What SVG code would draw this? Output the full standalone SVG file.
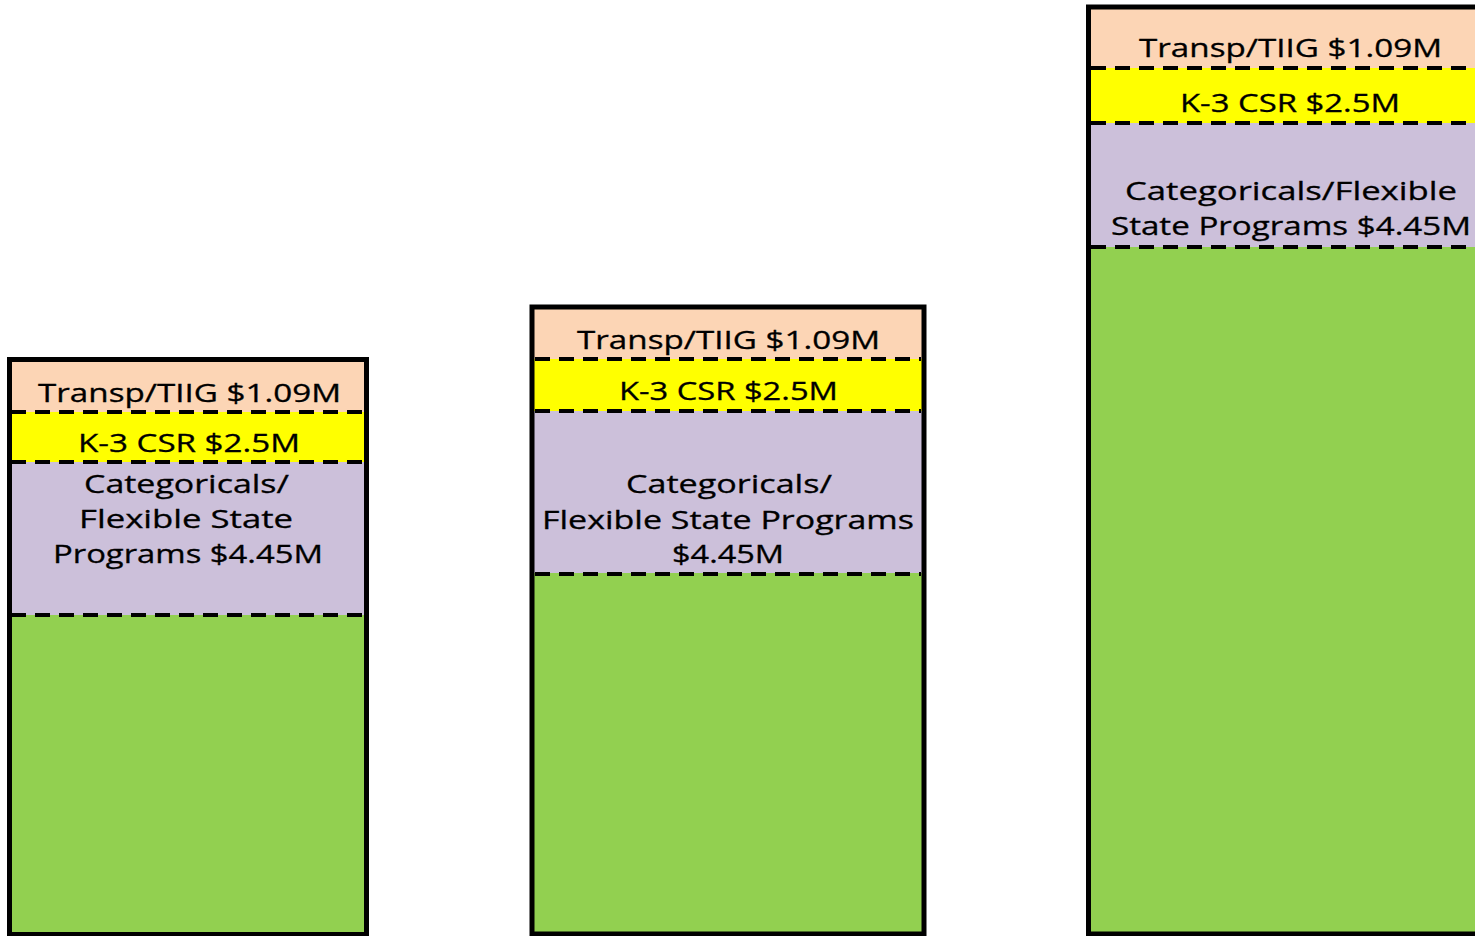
<svg xmlns="http://www.w3.org/2000/svg" width="1475" height="936" viewBox="0 0 1475 936">
<style>
.peach{fill:#FCD5B5}
.yel{fill:#FFFF00}
.lav{fill:#CCC0DA}
.grn{fill:#92D050}
.frame{fill:none;stroke:#000;stroke-width:5}
.dash{stroke:#000;stroke-width:4;stroke-dasharray:15 9;fill:none}
text{font-family:"Open Sans","DejaVu Sans",sans-serif;font-size:25px;fill:#000;stroke:#000;stroke-width:0.3}
</style>
<rect width="1475" height="936" fill="#fff"/>
<g id="bar1">
<rect class="peach" x="10" y="360" width="356" height="52"/>
<rect class="yel" x="10" y="412" width="356" height="50"/>
<rect class="lav" x="10" y="462" width="356" height="153"/>
<rect class="grn" x="10" y="615" width="356" height="320"/>
<line class="dash" x1="11" y1="412" x2="364" y2="412"/>
<line class="dash" x1="11" y1="462" x2="364" y2="462"/>
<line class="dash" x1="11" y1="615" x2="364" y2="615"/>
<rect class="frame" x="9.5" y="359.5" width="357" height="575"/>
<text x="38" y="402" textLength="303" lengthAdjust="spacingAndGlyphs">Transp/TIIG $1.09M</text>
<text x="78" y="452" textLength="222" lengthAdjust="spacingAndGlyphs">K-3 CSR $2.5M</text>
<text x="84" y="493" textLength="205" lengthAdjust="spacingAndGlyphs">Categoricals/</text>
<text x="79" y="528" textLength="214" lengthAdjust="spacingAndGlyphs">Flexible State</text>
<text x="53" y="563" textLength="270" lengthAdjust="spacingAndGlyphs">Programs $4.45M</text>
</g>
<g id="bar2">
<rect class="peach" x="533" y="308" width="390" height="51"/>
<rect class="yel" x="533" y="359" width="390" height="52"/>
<rect class="lav" x="533" y="411" width="390" height="162"/>
<rect class="grn" x="533" y="573" width="390" height="362"/>
<line class="dash" x1="535" y1="359" x2="921" y2="359"/>
<line class="dash" x1="535" y1="411" x2="921" y2="411"/>
<line class="dash" x1="535" y1="574" x2="921" y2="574"/>
<rect class="frame" x="532" y="307" width="392" height="627"/>
<text x="577" y="349" textLength="303" lengthAdjust="spacingAndGlyphs">Transp/TIIG $1.09M</text>
<text x="619" y="400" textLength="219" lengthAdjust="spacingAndGlyphs">K-3 CSR $2.5M</text>
<text x="626" y="493" textLength="206" lengthAdjust="spacingAndGlyphs">Categoricals/</text>
<text x="542" y="529" textLength="372" lengthAdjust="spacingAndGlyphs">Flexible State Programs</text>
<text x="672" y="563" textLength="112" lengthAdjust="spacingAndGlyphs">$4.45M</text>
</g>
<g id="bar3">
<rect class="peach" x="1090" y="8" width="400" height="60"/>
<rect class="yel" x="1090" y="68" width="400" height="55"/>
<rect class="lav" x="1090" y="123" width="400" height="124"/>
<rect class="grn" x="1090" y="247" width="400" height="688"/>
<line class="dash" x1="1091" y1="68" x2="1480" y2="68"/>
<line class="dash" x1="1091" y1="123" x2="1480" y2="123"/>
<line class="dash" x1="1091" y1="247" x2="1480" y2="247"/>
<rect class="frame" x="1088.5" y="7" width="420" height="927"/>
<text x="1139" y="57" textLength="303" lengthAdjust="spacingAndGlyphs">Transp/TIIG $1.09M</text>
<text x="1180" y="112" textLength="220" lengthAdjust="spacingAndGlyphs">K-3 CSR $2.5M</text>
<text x="1125" y="200" textLength="332" lengthAdjust="spacingAndGlyphs">Categoricals/Flexible</text>
<text x="1111" y="235" textLength="360" lengthAdjust="spacingAndGlyphs">State Programs $4.45M</text>
</g>
<g id="connectors"/>
</svg>
